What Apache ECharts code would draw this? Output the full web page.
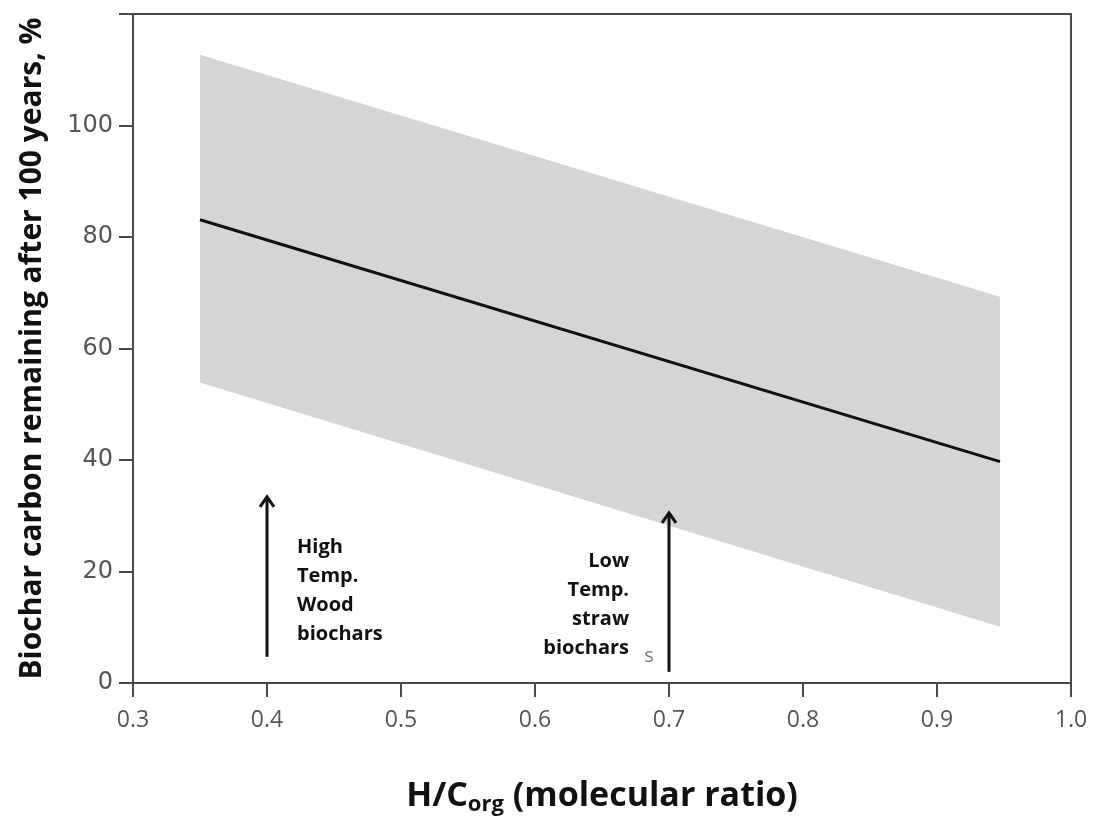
<!DOCTYPE html>
<html>
<head>
<meta charset="utf-8">
<script src="https://cdn.jsdelivr.net/npm/echarts@6/dist/echarts.min.js"></script>
<style>
  html, body { margin: 0; padding: 0; background: #fff; }
  #main { width: 1094px; height: 816px; }
</style>
</head>
<body>
<div id="main"></div>
<script>
  // band and fit line
  var bandX = [0.35, 0.947];
  var bandUpper = [112.7, 69.3];
  var bandLower = [53.9, 10.1];
  var fitX = [0.35, 0.947];
  var fitY = [83.1, 39.7];

  // arrows: x, from, to
  var arrowX = [0.4, 0.7];
  var arrowFrom = [4.7, 2.0];
  var arrowTo = [33.4, 30.5];

  var labelHigh = ['High', 'Temp.', 'Wood', 'biochars'];
  var labelLow = ['Low', 'Temp.', 'straw', 'biochars'];

  var fitData = fitX.map(function (x, i) { return [x, fitY[i]]; });
  var arrowData = arrowX.map(function (x, i) { return [x, arrowFrom[i], arrowTo[i]]; });

  var myChart = echarts.init(document.getElementById('main'));
  var option = {
    animation: false,
    grid: {
      left: 133, right: 23, top: 14, bottom: 133,
      outerBoundsMode: 'none',
      containLabel: false,
      show: true,
      borderColor: '#4a4a4a',
      borderWidth: 2
    },
    xAxis: {
      type: 'value',
      min: 0.3,
      max: 1.0,
      interval: 0.1,
      name: '{a|H/C}{sub|org}{a| (molecular ratio)}',
      nameLocation: 'middle',
      nameGap: 93,
      nameTextStyle: {
        rich: {
          a: { fontFamily: 'Open Sans', fontWeight: 'bold', fontSize: 34, color: '#111', lineHeight: 40 },
          sub: { fontFamily: 'Open Sans', fontWeight: 'bold', fontSize: 22, color: '#111', lineHeight: 40, padding: [18, 0, 0, 0] }
        }
      },
      axisLine: { lineStyle: { color: '#4a4a4a', width: 2 } },
      axisTick: { length: 14, lineStyle: { color: '#4a4a4a', width: 2 } },
      axisLabel: {
        margin: 26,
        fontFamily: 'Open Sans',
        fontSize: 23,
        color: '#555',
        formatter: function (v) { return v.toFixed(1); }
      },
      splitLine: { show: false }
    },
    yAxis: {
      type: 'value',
      min: 0,
      max: 120,
      interval: 20,
      name: 'Biochar carbon remaining after 100 years, %',
      nameLocation: 'middle',
      nameGap: 86,
      nameTextStyle: { fontFamily: 'Open Sans', fontWeight: 'bold', fontSize: 30, color: '#111' },
      axisLine: { lineStyle: { color: '#4a4a4a', width: 2 } },
      axisTick: { length: 14, lineStyle: { color: '#4a4a4a', width: 2 } },
      axisLabel: {
        margin: 20,
        fontFamily: 'DejaVu Sans',
        fontSize: 24,
        color: '#555',
        formatter: function (v) { return v > 100 ? '' : v; }
      },
      splitLine: { show: false }
    },
    series: [
      {
        type: 'custom',
        silent: true,
        data: [0],
        renderItem: function (params, api) {
          var pts = [];
          for (var i = 0; i < bandX.length; i++) pts.push(api.coord([bandX[i], bandUpper[i]]));
          for (var j = bandX.length - 1; j >= 0; j--) pts.push(api.coord([bandX[j], bandLower[j]]));
          return { type: 'polygon', shape: { points: pts }, style: { fill: '#d5d5d5' } };
        },
        z: 1
      },
      {
        type: 'line',
        data: fitData,
        symbol: 'none',
        lineStyle: { color: '#111', width: 3 },
        z: 3
      },
      {
        type: 'custom',
        silent: true,
        data: arrowData,
        renderItem: function (params, api) {
          var p0 = api.coord([api.value(0), api.value(1)]);
          var p1 = api.coord([api.value(0), api.value(2)]);
          return {
            type: 'group',
            children: [
              { type: 'line', shape: { x1: p0[0], y1: p0[1], x2: p1[0], y2: p1[1] + 1 }, style: { stroke: '#111', lineWidth: 3 } },
              { type: 'polyline', shape: { points: [[p1[0] - 7, p1[1] + 10], [p1[0], p1[1]], [p1[0] + 7, p1[1] + 10]] }, style: { stroke: '#111', lineWidth: 3, fill: null } }
            ]
          };
        },
        z: 4
      },
      {
        type: 'custom',
        silent: true,
        data: [[0.4, 33.4]],
        renderItem: function (params, api) {
          var p = api.coord([0.4, 0]);
          var children = labelHigh.map(function (t, i) {
            return { type: 'text', x: p[0] + 30, y: 0, style: { text: t, x: 0, y: 547 + i * 29, fontFamily: 'Open Sans', fontWeight: 'bold', fontSize: 20, fill: '#111', align: 'left', verticalAlign: 'middle' } };
          });
          var q = api.coord([0.7, 0]);
          labelLow.forEach(function (t, i) {
            children.push({ type: 'text', x: q[0] - 40, y: 0, style: { text: t, x: 0, y: 561 + i * 29, fontFamily: 'Open Sans', fontWeight: 'bold', fontSize: 20, fill: '#111', align: 'right', verticalAlign: 'middle' } });
          });
          children.push({ type: 'text', x: q[0] - 20, y: 0, style: { text: 's', x: 0, y: 656, fontFamily: 'Open Sans', fontSize: 20, fill: '#777', align: 'center', verticalAlign: 'middle' } });
          return { type: 'group', children: children };
        },
        z: 5
      }
    ]
  };
  myChart.setOption(option);
</script>
</body>
</html>
